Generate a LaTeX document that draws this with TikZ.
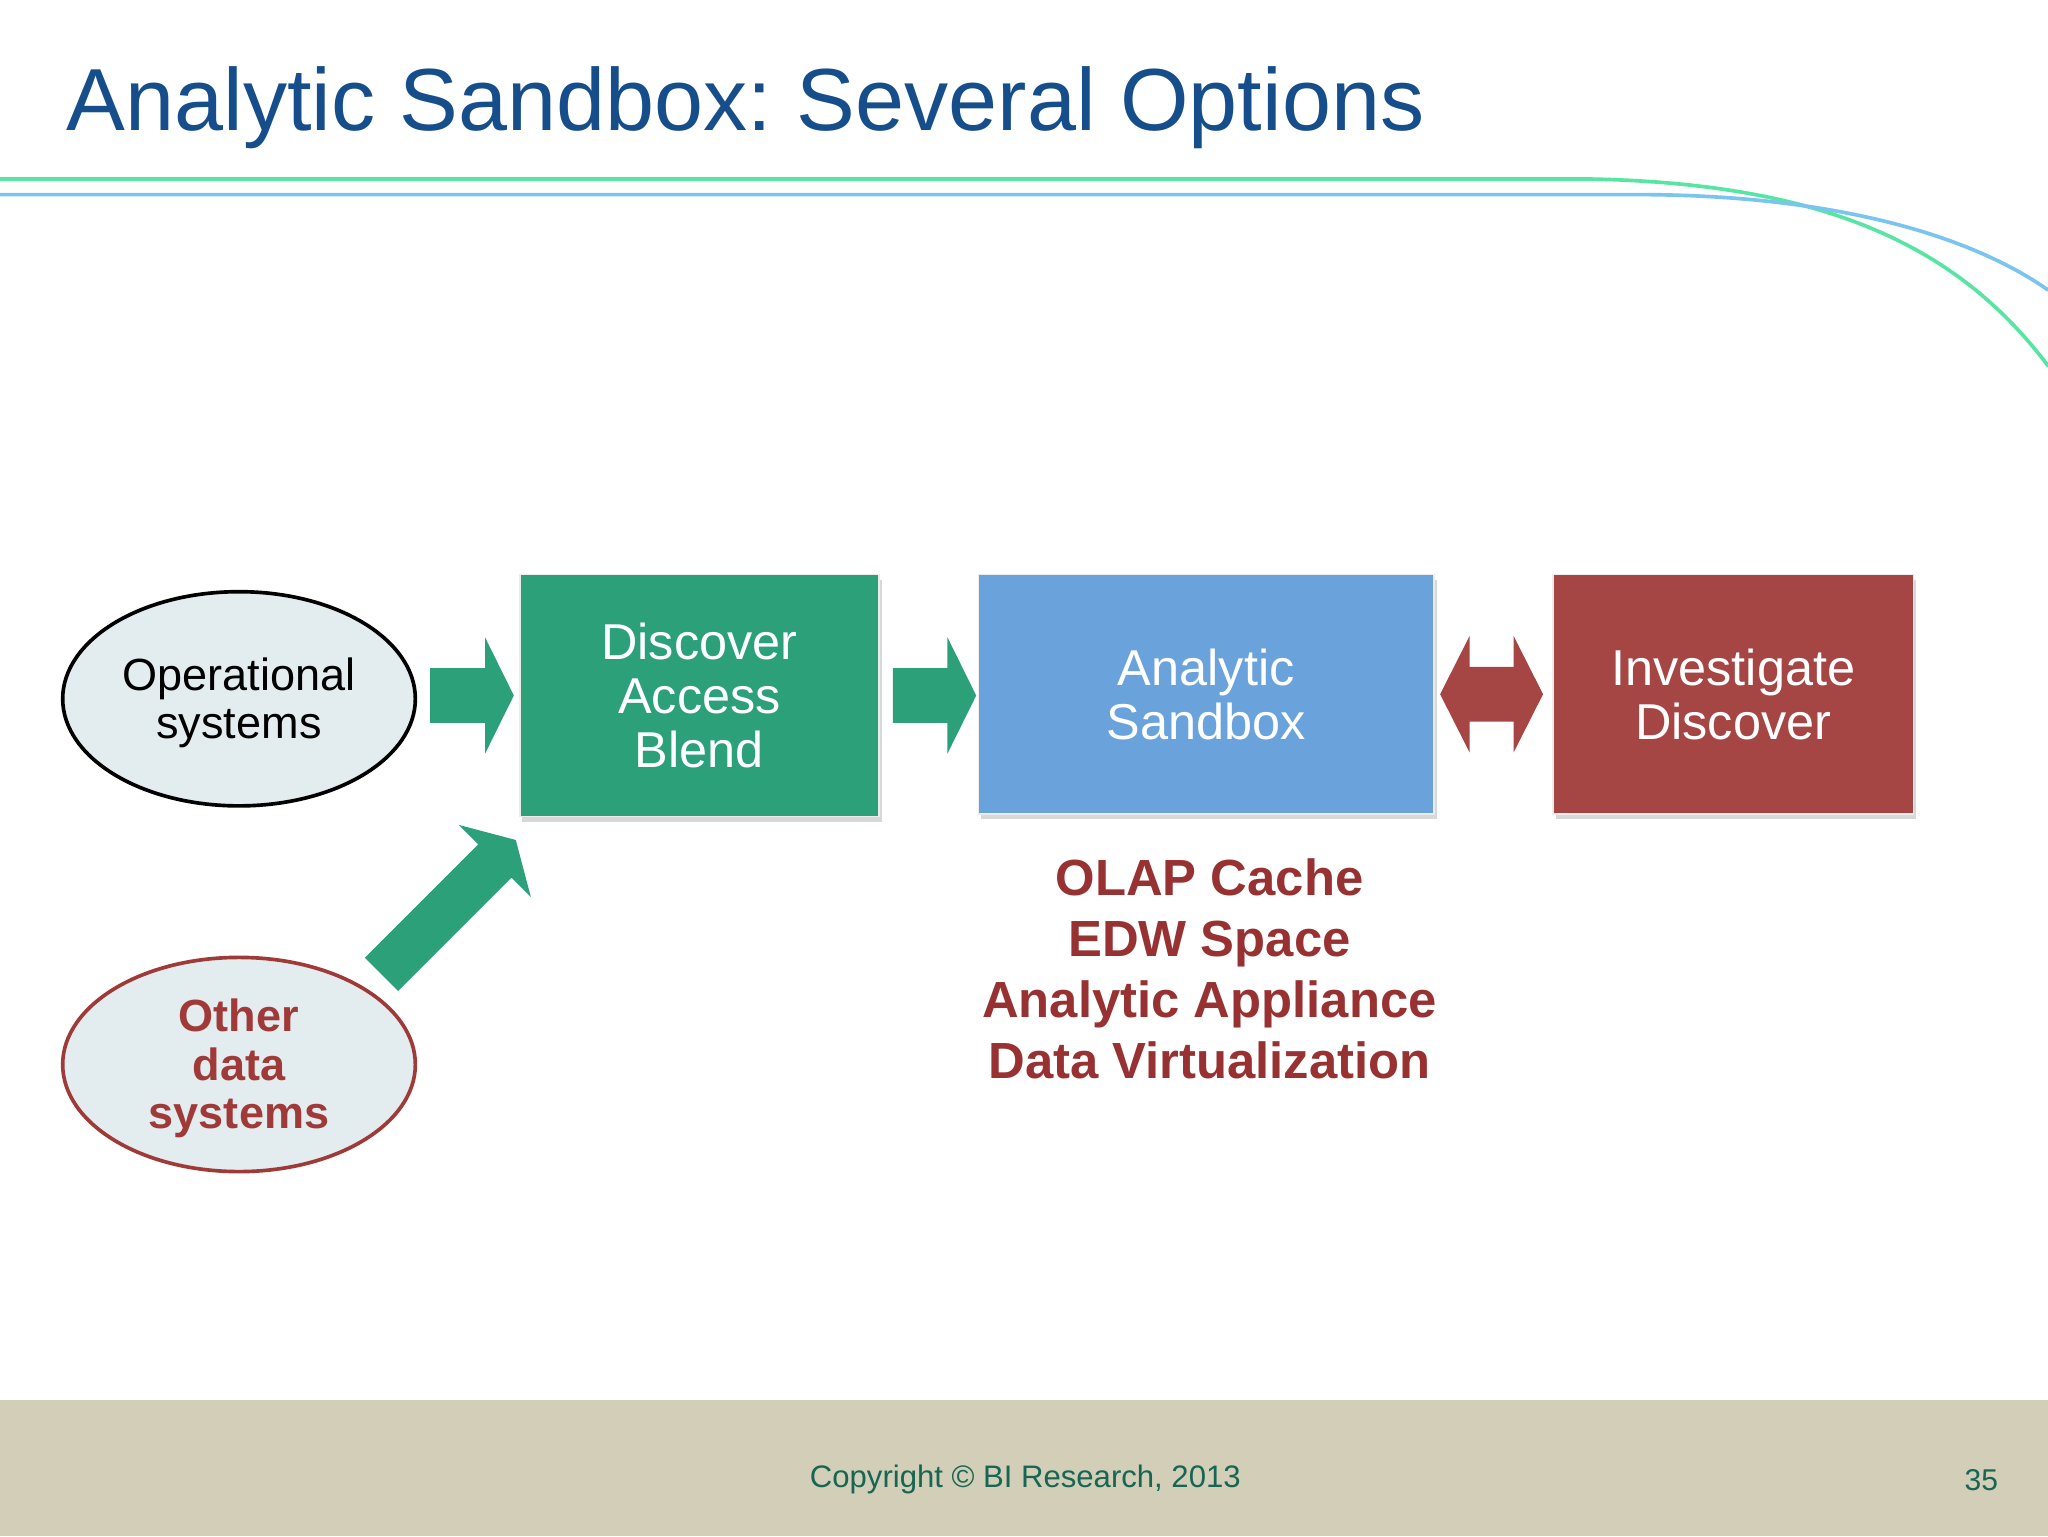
\documentclass[tikz,border=0pt]{standalone}
\usepackage{fontspec}
\setmainfont{Liberation Sans}
\frenchspacing
\usetikzlibrary{calc,shapes.geometric,shadows}
\definecolor{titleblue}{RGB}{22,78,140}
\definecolor{linegreen}{RGB}{88,228,162}
\definecolor{lineblue}{RGB}{122,196,240}
\definecolor{boxgreen}{RGB}{43,160,121}
\definecolor{boxblue}{RGB}{106,163,220}
\definecolor{boxred}{RGB}{166,70,68}
\definecolor{ellfill}{RGB}{227,236,238}
\definecolor{ellred}{RGB}{160,58,56}
\definecolor{listred}{RGB}{152,50,50}
\definecolor{footband}{RGB}{210,206,184}
\definecolor{footgreen}{RGB}{22,102,82}
\newcommand\blockarrow[6]{%
  \coordinate (hbtmp) at ($(#2)!#5!(#1)$);
  \fill[#6] ($(#1)!#3!90:(#2)$) -- ($(hbtmp)!#3!90:(#2)$) -- ($(hbtmp)!#4!90:(#2)$) -- (#2)
    -- ($(hbtmp)!#4!-90:(#2)$) -- ($(hbtmp)!#3!-90:(#2)$) -- ($(#1)!#3!-90:(#2)$) -- cycle;}
\newcommand\dblockarrow[6]{%
  \coordinate (hltmp) at ($(#1)!#5!(#2)$);
  \coordinate (hrtmp) at ($(#2)!#5!(#1)$);
  \fill[#6] (#1) -- ($(hltmp)!#4!90:(#2)$) -- ($(hltmp)!#3!90:(#2)$) -- ($(hrtmp)!#3!-90:(#1)$)
    -- ($(hrtmp)!#4!-90:(#1)$) -- (#2) -- ($(hrtmp)!#4!90:(#1)$) -- ($(hrtmp)!#3!90:(#1)$)
    -- ($(hltmp)!#3!-90:(#2)$) -- ($(hltmp)!#4!-90:(#2)$) -- cycle;}
\begin{document}
\begin{tikzpicture}[x=1pt,y=-1pt,
  boxstyle/.style={rectangle, inner sep=0pt, align=center, text=white,
    draw=white!85!gray, line width=1.2pt,
    font=\fontsize{38.6}{41.5}\selectfont,
    drop shadow={shadow xshift=2pt, shadow yshift=-4pt, opacity=0.3}},
  ellstyle/.style={ellipse, minimum width=270pt, minimum height=164pt, inner sep=0pt,
    fill=ellfill, line width=2.8pt},
  elltext/.style={align=center, inner sep=0pt, font=\fontsize{34.5}{37}\selectfont},
  topline/.style={line width=2.8pt, line cap=round}]
\useasboundingbox (0,0) rectangle (1568,1176);
\fill[white] (0,0) rectangle (1568,1176);
% top decorative lines
\draw[topline, linegreen] (0,137) -- (1214,137) .. controls (1400,140) and (1500,190) .. (1568,280);
\draw[topline, lineblue] (0,149) -- (1260,149) .. controls (1400,150) and (1505,178) .. (1568,222);
% title
\node[anchor=base west, inner sep=0pt, text=titleblue, font=\fontsize{67.5}{80}\selectfont] (title) at (51,100) {Analytic Sandbox: Several Options};
% footer
\fill[footband] (0,1072) rectangle (1568,1176);
\node[anchor=base, inner sep=0pt, text=footgreen, font=\fontsize{23.8}{28}\selectfont] (copy) at (785,1139) {Copyright © BI Research, 2013};
\node[anchor=base, inner sep=0pt, text=footgreen, font=\fontsize{23}{28}\selectfont] (pnum) at (1517,1141.5) {35};
% ellipses
\node[ellstyle, draw=black] (ops) at (183,535) {};
\node[elltext, text=black] (opstext) at ($(ops.center)+(0,3)$) {Operational\\systems};
\node[ellstyle, draw=ellred] (other) at (183,815) {};
\node[elltext, text=ellred, font=\bfseries\fontsize{34.5}{37}\selectfont] (othertext) at ($(other.center)+(0,3)$) {Other\\data\\systems};
% boxes
\node[boxstyle, fill=boxgreen, minimum width=275pt, minimum height=185pt] (disc) at (535.5,532.5) {Discover\\Access\\Blend};
\node[boxstyle, fill=boxblue, minimum width=349pt, minimum height=183pt] (sand) at (923.5,531.5) {Analytic\\Sandbox};
\node[boxstyle, fill=boxred, minimum width=276pt, minimum height=183pt] (inv) at (1327,531.5) {Investigate\\Discover};
% list
\node[align=center, inner sep=0pt, text=listred, font=\bfseries\fontsize{38.9}{46.7}\selectfont] (appl) at (926,742) {OLAP Cache\\EDW Space\\Analytic Appliance\\Data Virtualization};
% arrows
\coordinate (a1s) at ($(ops.east |- disc.west)+(10,0)$);
\coordinate (a1e) at ($(disc.west)+(-4,0)$);
\blockarrow{a1s}{a1e}{21pt}{44.5pt}{22pt}{boxgreen}
\coordinate (a2s) at ($(disc.east)+(10,0)$);
\coordinate (a2e) at ($(sand.west |- disc.east)+(-1,0)$);
\blockarrow{a2s}{a2e}{21pt}{44.5pt}{22pt}{boxgreen}
\coordinate (a3s) at ($(other.center)+(109,-69)$);
\coordinate (a3e) at ($(disc.south west)+(-2.5,17.5)$);
\blockarrow{a3s}{a3e}{18pt}{39pt}{22.7pt}{boxgreen}
\coordinate (a4l) at ($(sand.east)+(4,0)$);
\coordinate (a4r) at ($(inv.west)+(-7,0)$);
\dblockarrow{a4l}{a4r}{21pt}{44.5pt}{22.5pt}{boxred}
\end{tikzpicture}
\end{document}
